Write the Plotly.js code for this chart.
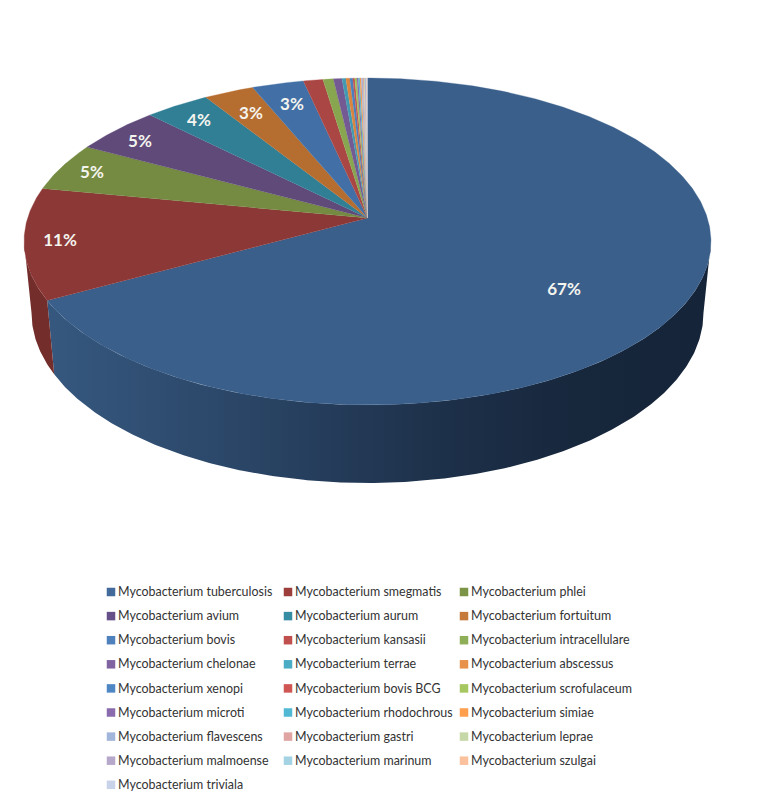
<!DOCTYPE html>
<html>
<head>
<meta charset="utf-8">
<script src="https://cdn.plot.ly/plotly-3.0.1.min.js"></script>
<style>html,body{margin:0;padding:0;background:#fff}</style>
</head>
<body>
<div id="chart" style="width:767px;height:805px"></div>
<script>
const categories = [
  "Mycobacterium tuberculosis","Mycobacterium smegmatis","Mycobacterium phlei",
  "Mycobacterium avium","Mycobacterium aurum","Mycobacterium fortuitum",
  "Mycobacterium bovis","Mycobacterium kansasii","Mycobacterium intracellulare",
  "Mycobacterium chelonae","Mycobacterium terrae","Mycobacterium abscessus",
  "Mycobacterium xenopi","Mycobacterium bovis BCG","Mycobacterium scrofulaceum",
  "Mycobacterium microti","Mycobacterium rhodochrous","Mycobacterium simiae",
  "Mycobacterium flavescens","Mycobacterium gastri","Mycobacterium leprae",
  "Mycobacterium malmoense","Mycobacterium marinum","Mycobacterium szulgai",
  "Mycobacterium triviala"
];
const values = [67.0,11.0,4.8,4.7,3.5,2.7,2.8,1.06,0.56,0.46,0.21,0.21,0.16,0.11,0.11,0.08,0.08,0.08,0.08,0.06,0.05,0.05,0.03,0.03,0.03];
const topColors = ["#3a5f8b","#8c3836","#748b41","#5f4a7a","#317f95","#b66d30","#4270a6","#aa4644","#88a64f","#735a92","#429ab2","#db843d","#4a80bd","#c45451","#a2c25c","#8a6cae","#51b9d4","#f99a4c","#a2b6db","#dba3a2","#c7d8a8","#b6a8cb","#a4d3e3","#fbc09c","#c8d3ea"];
const legendColors = ["#426a9a","#9c3f3c","#7c9445","#66508a","#358ca3","#c57a3c","#4f81bd","#c0504d","#8fae58","#8064a2","#4bacc6","#e8914a","#4f87c5","#cf5653","#a6c65f","#8a6cae","#51b9d4","#ff9f4d","#a2b6db","#e0a4a3","#c7d8a8","#b6a8cb","#a4d3e3","#fbc09c","#c8d3ea"];
// percent labels shown for the larger slices, placed at their picture positions
const labelAnchors = [[564,291],[60,242],[92,174],[140,143],[199,122],[251,115],[292,106]];

// projection of the pie disc
const cx=367.5, apexY=218, a=339.9, b=160.1, k=0.1437;
const upper={cy:241.5,rx:343.5,ry:163.5}, lower={cy:313,rx:336,ry:170};
const total=values.reduce((s,v)=>s+v,0);
function rim(phi){ // phi in radians clockwise from top
  const X=Math.sin(phi),Y=Math.cos(phi),d=1+k*Y;
  return [cx+a*X/d, apexY-b*Y/d];
}
function low(p){
  const c=(p[0]-cx)/upper.rx, s=(p[1]-upper.cy)/upper.ry;
  return [cx+lower.rx*c, lower.cy+lower.ry*s];
}
function arc(p0,p1){
  const n=Math.max(2,Math.ceil((p1-p0)/(Math.PI/360))),out=[];
  for(let i=0;i<=n;i++) out.push(rim(p0+(p1-p0)*i/n));
  return out;
}
const traces=[], tops=[];
const visStart=Math.acos(-k), visEnd=2*Math.PI-visStart;
let cum=0;
const wallStyle=[
  {fillgradient:{type:"horizontal",start:48,stop:711,colorscale:[[0,"#36587f"],[0.3,"#2a4566"],[0.6,"#1d3049"],[0.8,"#17273c"],[1,"#152438"]]}},
  {fillcolor:"#732e2c"}
];
values.forEach((v,i)=>{
  const p0=cum/total*2*Math.PI; cum+=v; const p1=cum/total*2*Math.PI;
  const pts=[[cx,apexY]].concat(arc(p0,p1));
  tops.push({x:pts.map(p=>p[0]),y:pts.map(p=>p[1]),mode:"lines",fill:"toself",fillcolor:topColors[i],
    line:{width:0.3,color:topColors[i]},hoverinfo:"text",text:categories[i],showlegend:false});
  const s=Math.max(p0,visStart), e=Math.min(p1,visEnd);
  if(e>s && wallStyle[i]){
    const up=arc(s,e), dn=up.map(low).reverse(), w=up.concat(dn);
    traces.push(Object.assign({x:w.map(p=>p[0]),y:w.map(p=>p[1]),mode:"lines",fill:"toself",
      line:{width:0},hoverinfo:"skip",showlegend:false},wallStyle[i]));
  }
});
traces.push(...tops);
traces.push({x:labelAnchors.map(p=>p[0]),y:labelAnchors.map(p=>p[1]),mode:"text",
  text:labelAnchors.map((p,i)=>Math.round(values[i]/total*100)+"%"),
  textposition:"middle center",textfont:{family:"Lato, 'Open Sans', sans-serif",size:17,color:"#f4f4ee",weight:700},
  hoverinfo:"skip",showlegend:false});
// legend grid
const lx=[], ly=[];
categories.forEach((c,i)=>{ lx.push(111+177*(i%3)-(i%3==2?1:0)); ly.push(592+24.1*Math.floor(i/3)); });
traces.push({x:lx,y:ly,mode:"markers",marker:{symbol:"square",size:8.5,color:legendColors,line:{width:0}},hoverinfo:"skip",showlegend:false});
traces.push({x:lx.map(v=>v+7),y:ly.map(v=>v+1),mode:"text",text:categories,textposition:"middle right",
  textfont:{family:"Lato, 'Open Sans', sans-serif",size:12.45,color:"#333333"},hoverinfo:"skip",showlegend:false});

Plotly.newPlot("chart",traces,{
  width:767,height:805,margin:{l:0,r:0,t:0,b:0},
  paper_bgcolor:"#ffffff",plot_bgcolor:"#ffffff",showlegend:false,
  xaxis:{range:[0,767],visible:false,fixedrange:true},
  yaxis:{range:[805,0],visible:false,fixedrange:true},
  hovermode:"closest"
},{displayModeBar:false,staticPlot:false});
</script>
</body>
</html>
